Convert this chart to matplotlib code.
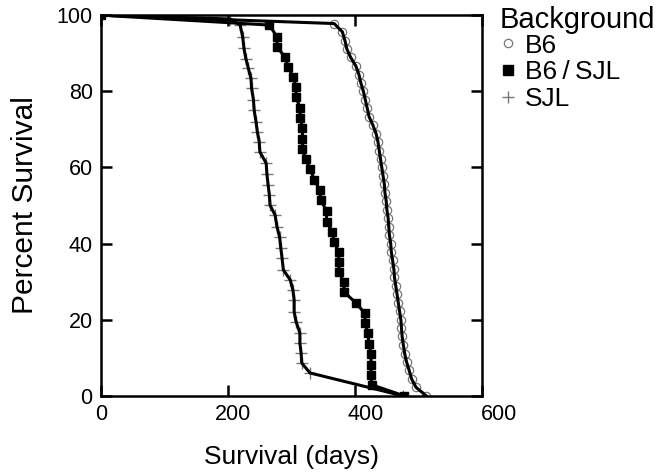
import numpy as np
import matplotlib
matplotlib.use('Agg')
import matplotlib.pyplot as plt
from matplotlib.lines import Line2D
from matplotlib.transforms import ScaledTranslation

plt.rcParams['font.family'] = ['Liberation Sans', 'DejaVu Sans']

# Survival data (days, percent surviving)
b6_days = [0, 367, 380, 384, 387, 393, 401, 406, 409, 413, 416, 419, 422, 428, 433,
           436, 438, 440, 442, 444, 446, 447, 449, 450, 452, 453, 454, 456, 457, 459,
           461, 462, 464, 466, 468, 470, 472, 473, 474, 476, 478, 481, 485, 489, 496, 512]
b6_pct = [100, 97.8, 95.6, 93.3, 91.1, 88.9, 86.7, 84.4, 82.2, 80.0, 77.8, 75.6, 73.3,
          71.1, 68.9, 66.7, 64.4, 62.2, 60.0, 57.8, 55.6, 53.3, 51.1, 48.9, 46.7, 44.4,
          42.2, 40.0, 37.8, 35.6, 33.3, 31.1, 28.9, 26.7, 24.4, 22.2, 20.0, 17.8, 15.6,
          13.3, 11.1, 8.9, 6.7, 4.4, 2.2, 0]

b6sjl_days = [0, 265, 277, 277, 289, 295, 302, 307, 307, 313, 314, 317, 317, 317, 322,
              329, 336, 344, 346, 355, 355, 364, 367, 374, 374, 375, 382, 383, 402, 415,
              416, 420, 422, 425, 425, 425, 426, 477]
b6sjl_pct = [100, 97.4, 94.3, 91.7, 89.1, 86.4, 83.8, 81.2, 78.5, 75.7, 72.9, 70.3, 67.5,
             64.8, 62.2, 59.6, 56.7, 54.1, 51.4, 48.6, 45.7, 43.1, 40.5, 37.7, 35.1, 32.5,
             29.8, 27.2, 24.3, 21.7, 19.1, 16.5, 13.6, 11.0, 8.1, 5.5, 2.9, 0]

sjl_days = [0, 203, 219, 223, 225, 228, 232, 236, 237, 240, 241, 244, 246, 249, 250, 260,
            261, 263, 265, 266, 274, 277, 281, 283, 285, 287, 298, 302, 304, 304, 307,
            313, 313, 315, 316, 329, 475]
sjl_pct = [100, 99.0, 97.4, 94.3, 91.3, 88.6, 86.0, 83.4, 80.8, 77.7, 75.1, 72.0, 69.4,
           66.8, 64.1, 61.1, 58.4, 55.4, 52.8, 50.1, 47.5, 44.4, 41.8, 38.8, 36.1, 33.1,
           30.4, 27.8, 25.2, 22.1, 19.5, 16.5, 13.8, 11.2, 8.6, 6.0, 0]

groups = ['B6', 'B6\u2009/\u2009SJL', 'SJL']

fig = plt.figure(figsize=(6.56, 4.74), dpi=100)
ax = fig.add_axes([0.154, 0.165, 0.581, 0.803])

gray = '#777777'

# markers first, black lines on top for B6 and SJL
ax.plot(b6_days, b6_pct, ls='none', marker='o', ms=6, mfc='white', mec=gray, mew=0.9, zorder=2)
ax.plot(b6_days, b6_pct, color='black', lw=2.2, zorder=3)

ax.plot(sjl_days, sjl_pct, ls='none', marker='+', ms=8, mec=gray, mew=1.0, zorder=2)
ax.plot(sjl_days, sjl_pct, color='black', lw=2.2, zorder=3)

ax.plot(b6sjl_days, b6sjl_pct, color='black', lw=2.2, marker='s', ms=6,
        mfc='black', mec='black', zorder=4)

ax.set_xlim(0, 600)
ax.set_ylim(0, 100)
ax.set_xticks([0, 200, 400, 600])
ax.set_yticks([0, 20, 40, 60, 80, 100])
ax.tick_params(direction='in', length=8, width=1.8, labelsize=15.5,
               top=True, right=True, pad=6)
for sp in ax.spines.values():
    sp.set_linewidth(1.8)

# x tick labels in the original sit a little right of their ticks
for lab, dx in zip(ax.get_xticklabels(), [0, 5, 11, 17]):
    lab.set_transform(lab.get_transform() + ScaledTranslation(dx / 100, 0, fig.dpi_scale_trans))

ax.set_xlabel('Survival (days)', fontsize=19, labelpad=14)
ax.set_ylabel('Percent Survival', fontsize=21.5, labelpad=13)

handles = [
    Line2D([], [], ls='none', marker='o', ms=6, mfc='white', mec=gray, mew=0.9),
    Line2D([], [], ls='none', marker='s', ms=7, mfc='black', mec='black'),
    Line2D([], [], ls='none', marker='+', ms=9, mec=gray, mew=1.0),
]
leg = ax.legend(handles, groups, title='Background',
                loc='upper left', bbox_to_anchor=(1.012, 1.06), frameon=False,
                fontsize=19, title_fontsize=21, handlelength=0.6, handletextpad=0.35,
                labelspacing=0.1, borderaxespad=0.3, borderpad=0.2)
leg._legend_box.align = 'left'
leg._legend_box.sep = 0

fig.savefig('out.png', dpi=100)
